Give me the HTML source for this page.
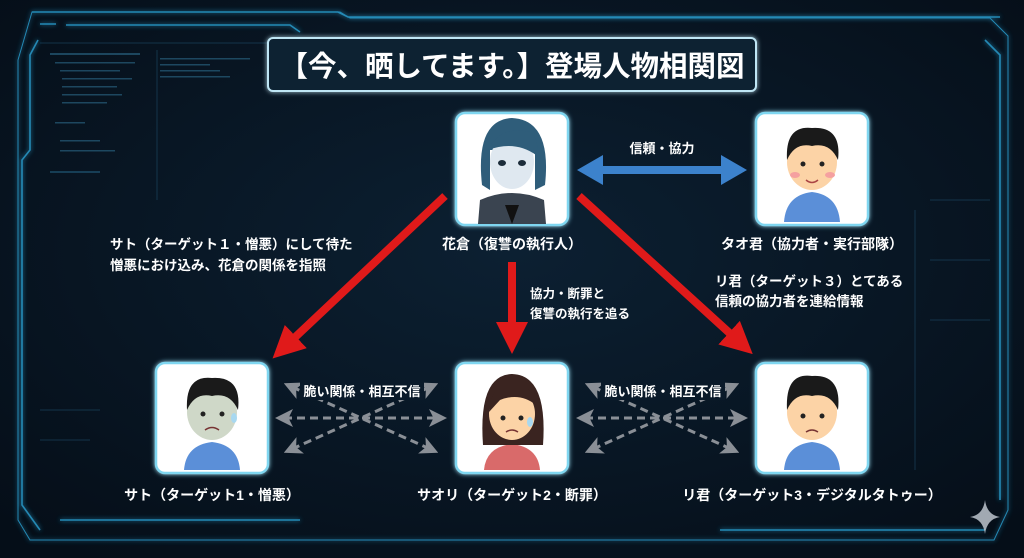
<!DOCTYPE html>
<html><head><meta charset="utf-8"><style>
html,body{margin:0;padding:0;background:#07131f;}
svg{display:block}
text{font-family:"Liberation Sans","Noto Sans CJK JP",sans-serif;fill:#fff;}
</style></head><body>
<svg width="1024" height="558" viewBox="0 0 1024 558" xmlns="http://www.w3.org/2000/svg">
<defs>
<radialGradient id="bg" cx="50%" cy="45%" r="70%"><stop offset="0" stop-color="#0c2032"/><stop offset="1" stop-color="#050e18"/></radialGradient>
<filter id="gl" x="-20%" y="-20%" width="140%" height="140%"><feGaussianBlur stdDeviation="2.5" result="b"/><feMerge><feMergeNode in="b"/><feMergeNode in="SourceGraphic"/></feMerge></filter>
<marker id="rh" markerWidth="4" markerHeight="4" refX="1" refY="2" orient="auto" markerUnits="strokeWidth"><path d="M0,0 L4,2 L0,4 z" fill="#e01a1a"/></marker>
<marker id="gh" markerWidth="6" markerHeight="6" refX="3" refY="3" orient="auto-start-reverse" markerUnits="strokeWidth"><path d="M0,0 L6,3 L0,6 L1.5,3 z" fill="#8a8f96"/></marker>
</defs>
<rect width="1024" height="558" fill="url(#bg)"/>
<g fill="none" stroke="#2a9fd0" stroke-width="1.6" filter="url(#gl)" opacity="0.85">
<path d="M18,60 L32,12 L340,12 L350,18 L990,18 L1008,36 L1008,510 L994,540 L30,540 L18,520 Z" stroke-width="1"/>
<path d="M38,40 L30,55 L30,150 L22,160 L22,505 L40,530"/>
<path d="M32,12 L338,12 L348,17 L1000,17"/>
<path d="M40,24 L56,24 M66,25 L290,25 L300,32"/>
<path d="M985,40 L1000,55 L1000,500"/>
<path d="M60,520 L300,520"/>
<path d="M720,530 L985,530"/>
</g>
<g stroke="#1c4a66" stroke-width="1" opacity="0.6">
<line x1="40" y1="43" x2="300" y2="43"/><line x1="157" y1="50" x2="157" y2="200"/>
<line x1="50" y1="172" x2="100" y2="172" stroke="#3aa0d0"/>
<line x1="930" y1="200" x2="990" y2="200"/><line x1="930" y1="260" x2="990" y2="260"/><line x1="930" y1="320" x2="990" y2="320"/>
<line x1="915" y1="210" x2="915" y2="470"/>
<line x1="40" y1="410" x2="100" y2="410"/><line x1="40" y1="440" x2="90" y2="440"/>
</g>
<g fill="#2c6a8a" opacity="0.6">
<rect x="50" y="53" width="90" height="2"/><rect x="55" y="62" width="80" height="1.5"/><rect x="60" y="70" width="60" height="1.5"/><rect x="62" y="78" width="70" height="1.5"/><rect x="62" y="86" width="55" height="1.5"/><rect x="62" y="94" width="60" height="1.5"/><rect x="62" y="102" width="45" height="1.5"/><rect x="55" y="122" width="30" height="1.5"/><rect x="60" y="140" width="40" height="1.5"/><rect x="60" y="150" width="55" height="1.5"/>
<rect x="160" y="58" width="90" height="1.5"/><rect x="160" y="64" width="50" height="1.5"/><rect x="160" y="70" width="60" height="1.5"/><rect x="160" y="76" width="70" height="1.5"/>
</g>
<rect x="268" y="38" width="488" height="53" rx="5" fill="#0d2233" stroke="#bfe6f5" stroke-width="2" filter="url(#gl)"/>
<text x="512" y="76" font-size="28.5" font-weight="bold" text-anchor="middle">【今、晒してます。】登場人物相関図</text>

<g stroke="#e01a1a" stroke-width="8" fill="none">
<line x1="445" y1="196" x2="290" y2="342" marker-end="url(#rh)"/>
<line x1="512" y1="262" x2="512" y2="330" marker-end="url(#rh)"/>
<line x1="579" y1="196" x2="735" y2="338" marker-end="url(#rh)"/>
</g>
<path d="M577,170 L603,155 L603,166 L721,166 L721,155 L747,170 L721,185 L721,174 L603,174 L603,185 Z" fill="#3c82cc"/>
<text x="662" y="153" font-size="13" font-weight="bold" text-anchor="middle">信頼・協力</text>

<g stroke="#8a8f96" stroke-width="3" stroke-dasharray="8,5" fill="none">
<line x1="284" y1="418" x2="438" y2="418" marker-start="url(#gh)" marker-end="url(#gh)"/>
<line x1="292" y1="387" x2="430" y2="449" marker-start="url(#gh)" marker-end="url(#gh)"/>
<line x1="292" y1="449" x2="430" y2="387" marker-start="url(#gh)" marker-end="url(#gh)"/>
<line x1="585" y1="418" x2="739" y2="418" marker-start="url(#gh)" marker-end="url(#gh)"/>
<line x1="593" y1="387" x2="731" y2="449" marker-start="url(#gh)" marker-end="url(#gh)"/>
<line x1="593" y1="449" x2="731" y2="387" marker-start="url(#gh)" marker-end="url(#gh)"/>
</g>
<rect x="300" y="380" width="124" height="20" fill="#0a1a2a"/>
<rect x="601" y="380" width="124" height="20" fill="#0a1a2a"/>
<text x="362" y="396" font-size="13" font-weight="bold" text-anchor="middle">脆い関係・相互不信</text>
<text x="663" y="396" font-size="13" font-weight="bold" text-anchor="middle">脆い関係・相互不信</text>

<g fill="#fff" stroke="#7fd6f0" stroke-width="2.5" filter="url(#gl)">
<rect x="456" y="113" width="112" height="112" rx="9"/>
<rect x="756" y="113" width="112" height="112" rx="9"/>
<rect x="156" y="363" width="112" height="110" rx="9"/>
<rect x="456" y="363" width="112" height="110" rx="9"/>
<rect x="756" y="363" width="112" height="110" rx="9"/>
</g>
<g>
<path d="M478,224 L480,200 Q512,186 544,200 L546,224 Z" fill="#3a4450"/>
<path d="M505,205 L512,224 L519,205 Z" fill="#111"/>
<path d="M482,185 Q475,120 512,118 Q552,120 545,185 L535,190 L535,150 L490,150 L490,190 Z" fill="#2f5d7a"/>
<ellipse cx="512" cy="162" rx="22" ry="27" fill="#dfe8f0"/>
<path d="M488,150 Q500,125 530,132 Q540,140 536,155 Q515,140 488,150Z" fill="#2f5d7a"/>
<ellipse cx="502" cy="163" rx="4" ry="3" fill="#1c2c3a"/><ellipse cx="522" cy="163" rx="4" ry="3" fill="#1c2c3a"/>
</g>
<g>
<path d="M784,222 Q786,195 812,192 Q838,195 840,222Z" fill="#5b8fd8"/>
<ellipse cx="812" cy="162" rx="25" ry="28" fill="#fcd3a6"/>
<path d="M787,160 Q785,125 812,128 Q842,126 838,160 Q830,142 812,146 Q795,142 787,160Z" fill="#1a1a1a"/>
<circle cx="803" cy="164" r="2.5" fill="#222"/><circle cx="822" cy="164" r="2.5" fill="#222"/>
<ellipse cx="795" cy="175" rx="5" ry="3" fill="#f5a0a0"/><ellipse cx="830" cy="175" rx="5" ry="3" fill="#f5a0a0"/>
<path d="M806,180 Q812,185 818,180" stroke="#a44" fill="none" stroke-width="1.5"/>
</g>
<g>
<path d="M184,470 Q186,445 212,442 Q238,445 240,470Z" fill="#5b8fd8"/>
<ellipse cx="212" cy="412" rx="25" ry="28" fill="#cfd8c8"/>
<path d="M187,410 Q185,375 212,378 Q242,376 238,410 Q230,392 212,396 Q195,392 187,410Z" fill="#1a1a1a"/>
<circle cx="203" cy="414" r="2.5" fill="#222"/><circle cx="222" cy="414" r="2.5" fill="#222"/>
<path d="M205,430 Q212,425 219,430" stroke="#733" fill="none" stroke-width="1.5"/>
<ellipse cx="234" cy="418" rx="3" ry="5" fill="#a8d8f0"/>
</g>
<g>
<path d="M484,470 Q486,447 512,444 Q538,447 540,470Z" fill="#d96a6a"/>
<path d="M483,445 Q478,375 512,374 Q548,375 543,445Z" fill="#3a2420"/>
<ellipse cx="512" cy="414" rx="23" ry="26" fill="#fcd3a6"/>
<path d="M489,412 Q490,385 512,386 Q535,385 536,405 Q520,392 500,400Z" fill="#3a2420"/>
<circle cx="503" cy="418" r="2.5" fill="#222"/><circle cx="521" cy="418" r="2.5" fill="#222"/>
<path d="M506,432 Q512,428 518,432" stroke="#733" fill="none" stroke-width="1.5"/>
<ellipse cx="530" cy="422" rx="3" ry="5" fill="#a8d8f0"/>
</g>
<g>
<path d="M784,470 Q786,445 812,442 Q838,445 840,470Z" fill="#5b8fd8"/>
<ellipse cx="812" cy="412" rx="25" ry="28" fill="#fcd3a6"/>
<path d="M787,410 Q785,372 812,376 Q842,374 838,410 Q830,392 812,396 Q795,392 787,410Z" fill="#1a1a1a"/>
<circle cx="803" cy="416" r="2.5" fill="#222"/><circle cx="822" cy="416" r="2.5" fill="#222"/>
<path d="M806,432 Q812,428 818,432" stroke="#733" fill="none" stroke-width="1.5"/>
</g>

<g font-size="14" font-weight="bold">
<text x="512" y="249" text-anchor="middle">花倉（復讐の執行人）</text>
<text x="812" y="249" text-anchor="middle">タオ君（協力者・実行部隊）</text>
<text x="212" y="500" text-anchor="middle">サト（ターゲット1・憎悪）</text>
<text x="512" y="500" text-anchor="middle">サオリ（ターゲット2・断罪）</text>
<text x="812" y="500" text-anchor="middle">リ君（ターゲット3・デジタルタトゥー）</text>
</g>
<g font-size="13.5" font-weight="bold">
<text x="110" y="249">サト（ターゲット１・憎悪）にして待た</text>
<text x="110" y="270">憎悪におけ込み、花倉の関係を指照</text>
<text x="715" y="286">リ君（ターゲット３）とてある</text>
<text x="715" y="306">信頼の協力者を連給情報</text>
</g>
<g font-size="12.5" font-weight="bold">
<text x="530" y="298">協力・断罪と</text>
<text x="530" y="318">復讐の執行を追る</text>
</g>
<path d="M985,500 Q987,515 1000,517 Q987,519 985,534 Q983,519 970,517 Q983,515 985,500Z" fill="#c8d0d8" opacity="0.8"/>
</svg>
</body></html>
